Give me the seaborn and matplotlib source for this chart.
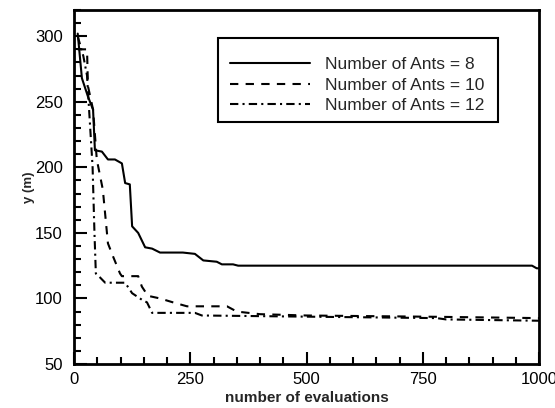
import numpy as np
import pandas as pd
import matplotlib
matplotlib.use("Agg")
import matplotlib.pyplot as plt
import seaborn as sns
from matplotlib.ticker import MultipleLocator
from matplotlib.patches import Rectangle

# ---- data ----
x_ants8 = [8, 17, 30, 41, 45, 60, 73, 88, 103, 110, 120, 125, 138, 153, 168, 185,
           234, 260, 278, 307, 318, 342, 353, 985, 995, 1000]
y_ants8 = [302, 268, 254, 244, 213, 212, 206, 206, 203, 188, 187, 155, 150, 139, 138, 135,
           135, 134, 129, 128, 126, 126, 125, 125, 123, 123]

x_ants10 = [8, 28, 30, 41, 49, 62, 73, 84, 99, 103, 138, 146, 159, 185, 213, 243,
            254, 329, 350, 400, 500, 780, 1000]
y_ants10 = [290, 290, 262, 244, 206, 183, 142, 132, 119, 117, 117, 109, 102, 100, 97, 94,
            94, 94, 90, 88, 87, 86, 85]

x_ants12 = [8, 20, 28, 34, 40, 44, 47, 56, 67, 110, 125, 146, 157, 168, 260, 275,
            780, 800, 1000]
y_ants12 = [300, 285, 270, 235, 200, 150, 119, 116, 112, 112, 104, 99, 97, 89, 89, 87,
            85, 84, 83]

labels = ["Number of Ants = 8", "Number of Ants = 10", "Number of Ants = 12"]

df = pd.concat([
    pd.DataFrame({"x": x_ants8, "y": y_ants8, "series": labels[0]}),
    pd.DataFrame({"x": x_ants10, "y": y_ants10, "series": labels[1]}),
    pd.DataFrame({"x": x_ants12, "y": y_ants12, "series": labels[2]}),
], ignore_index=True)

sns.set_theme(style="white")
plt.rcParams["font.family"] = ["Liberation Sans", "DejaVu Sans"]

fig = plt.figure(figsize=(5.55, 4.08), dpi=100)
ax = fig.add_axes([74 / 555, 1 - 364 / 408, (539 - 74) / 555, (364 - 10) / 408])

dashes = {labels[0]: "", labels[1]: (4, 3.5), labels[2]: (4, 2, 1, 2)}
sns.lineplot(data=df, x="x", y="y", hue="series", style="series",
             palette=["black"] * 3, dashes=dashes, linewidth=1.5,
             sort=False, estimator=None, ax=ax)

ax.set_xlim(0, 1000)
ax.set_ylim(50, 320)
ax.xaxis.set_major_locator(MultipleLocator(250))
ax.xaxis.set_minor_locator(MultipleLocator(50))
ax.yaxis.set_major_locator(MultipleLocator(50))
ax.yaxis.set_minor_locator(MultipleLocator(10))
ax.tick_params(which="both", direction="in", top=False, right=False,
               bottom=True, left=True, colors="black", width=1.5)
ax.tick_params(which="major", length=9, labelsize=12)
ax.tick_params(axis="y", which="major", pad=8)
ax.tick_params(axis="x", which="major", pad=6)
ax.tick_params(which="minor", length=5)
for s in ax.spines.values():
    s.set_color("black")
    s.set_linewidth(2)

ax.set_xlabel("number of evaluations", fontsize=11, fontweight="bold", labelpad=3)
ax.set_ylabel("y (m)", fontsize=9.5, fontweight="bold", labelpad=0)

leg = ax.legend(loc="upper left", bbox_to_anchor=(0.3355, 0.868), fontsize=12.5,
                frameon=False, handlelength=4.6, handletextpad=0.86,
                borderpad=0, labelspacing=0.32, borderaxespad=0)
for line in leg.get_lines():
    line.set_linewidth(1.5)
ax.add_patch(Rectangle((0.3097, 0.6836), 0.602, 0.2373, transform=ax.transAxes,
                       fill=False, edgecolor="black", linewidth=1.5, zorder=5))

fig.savefig("out.png", dpi=100)
